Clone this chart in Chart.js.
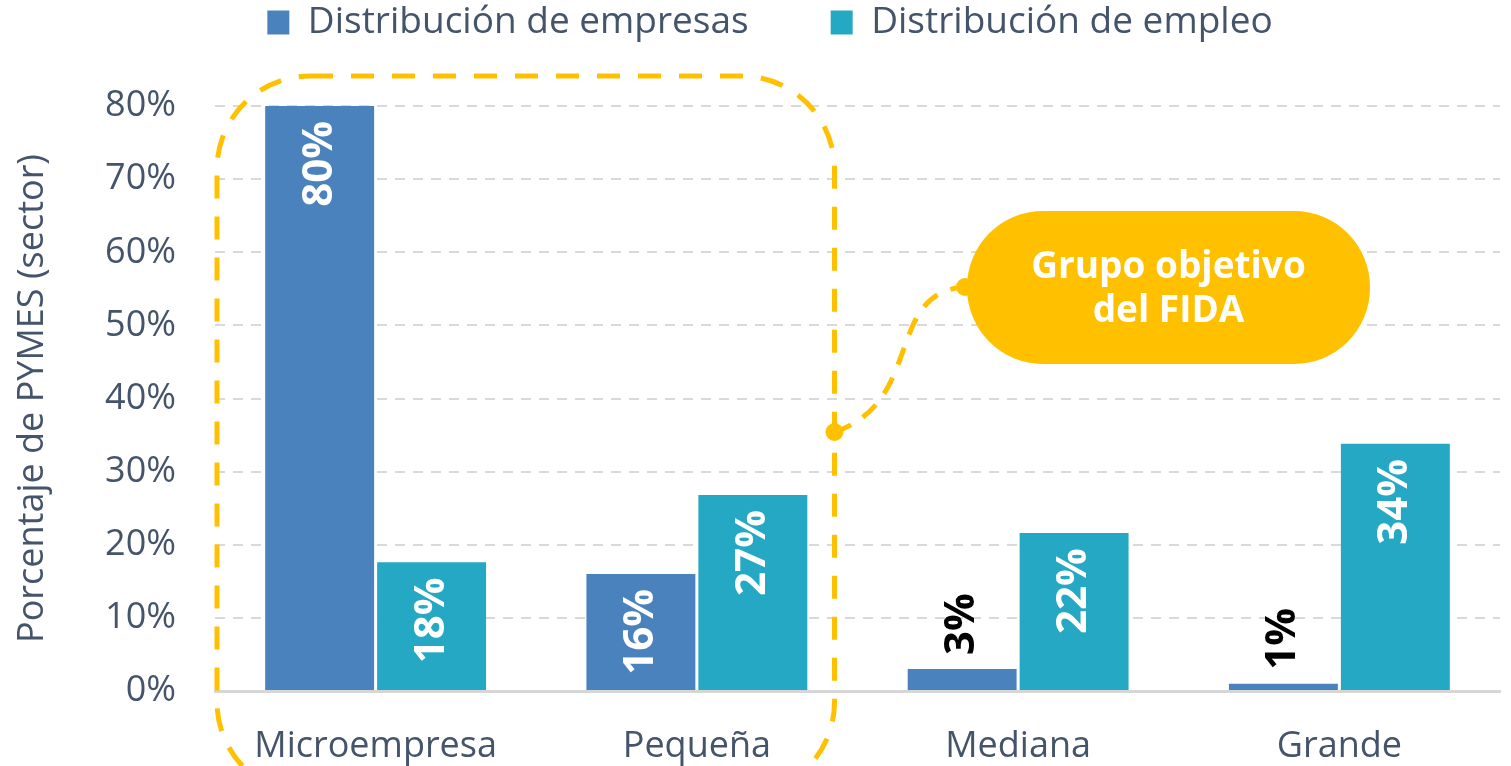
<!DOCTYPE html>
<html>
<head>
<meta charset="utf-8">
<script src="https://cdn.jsdelivr.net/npm/chart.js@4.4.1/dist/chart.umd.min.js"></script>
<style>
  html, body { margin: 0; padding: 0; background: #fff; }
  #wrap { width: 1511px; height: 766px; }
</style>
</head>
<body>
<div id="wrap"><canvas id="myChart"></canvas></div>
<script>
"use strict";

/* datos */
const categories = ['Microempresa', 'Pequeña', 'Mediana', 'Grande'];
const empresas = [80, 16, 3, 1];
const empleo = [17.6, 26.8, 21.6, 33.8];
const seriesNames = ['Distribución de empresas', 'Distribución de empleo'];
const yTicks = [0, 10, 20, 30, 40, 50, 60, 70, 80];
const calloutLines = ['Grupo objetivo', 'del FIDA'];

const textGray = '#44546a';
const yellow = '#ffc000';
const FONT = "'Open Sans', 'Noto Sans', sans-serif";

// etiquetas giradas en las barras
const barLabels = {
    id: 'barLabels',
    afterDatasetsDraw(chart) {
        const ctx = chart.ctx;
        chart.data.datasets.forEach((ds, i) => {
            const meta = chart.getDatasetMeta(i);
            meta.data.forEach((bar, j) => {
                const v = ds.data[j];
                const txt = Math.round(v) + '%';
                ctx.save();
                ctx.font = 'bold 42px ' + FONT;
                ctx.textBaseline = 'middle';
                if (v < 8) {
                    ctx.fillStyle = '#000';
                    ctx.translate(bar.x, bar.y - 14);
                    ctx.rotate(-Math.PI / 2);
                    ctx.textAlign = 'left';
                } else {
                    ctx.fillStyle = '#fff';
                    ctx.translate(bar.x, bar.y + 15);
                    ctx.rotate(-Math.PI / 2);
                    ctx.textAlign = 'right';
                }
                ctx.fillText(txt, 0, 0);
                ctx.restore();
            });
        });
    }
};

// recuadro punteado + globo "Grupo objetivo del FIDA"
const fidaBox = {
    id: 'fidaBox',
    afterDatasetsDraw(chart) {
        const ctx = chart.ctx;
        const x = chart.scales.x, y = chart.scales.y;
        const left = chart.chartArea.left + 2;
        const right = (x.getPixelForValue(1) + x.getPixelForValue(2)) / 2 - 23;
        const top = y.getPixelForValue(80) - 30;
        const bottom = 795;
        const r = 93;

        ctx.save();
        ctx.strokeStyle = yellow;
        ctx.fillStyle = yellow;
        ctx.lineWidth = 5;
        ctx.setLineDash([23, 18]);
        ctx.beginPath();
        ctx.roundRect(left, top, right - left, bottom - top, r);
        ctx.stroke();

        // globo
        const bx = 967, by = 211, bw = 403, bh = 153;
        ctx.setLineDash([]);
        ctx.beginPath();
        ctx.roundRect(bx, by, bw, bh, 76);
        ctx.fill();

        // conector
        const sx = right, sy = 432, ex = bx - 2, ey = 287;
        ctx.setLineDash([18, 14]);
        ctx.beginPath();
        ctx.moveTo(sx, sy);
        ctx.bezierCurveTo(sx + 90, sy - 30, sx + 50, ey + 5, ex, ey);
        ctx.stroke();
        ctx.setLineDash([]);
        ctx.beginPath();
        ctx.arc(sx, sy, 9, 0, Math.PI * 2);
        ctx.fill();
        ctx.beginPath();
        ctx.arc(ex, ey, 9, 0, Math.PI * 2);
        ctx.fill();

        ctx.fillStyle = '#fff';
        ctx.font = 'bold 37px ' + FONT;
        ctx.textAlign = 'center';
        ctx.textBaseline = 'middle';
        ctx.fillText(calloutLines[0], bx + bw / 2, 267);
        ctx.fillText(calloutLines[1], bx + bw / 2, 311);
        ctx.restore();
    }
};

// leyenda: altura fija, items arriba del todo
const legendFix = {
    id: 'legendFix',
    beforeInit(chart) {
        const lg = chart.legend;
        const fit = lg.fit;
        lg.fit = function () {
            fit.call(lg);
            lg.height = 106;
        };
        const draw = lg.draw;
        lg.draw = function () {
            const p = lg.options.labels.padding;
            const t = lg.top, l = lg.left, r = lg.right;
            lg.top = t - p + 4;
            lg.left = l + 20;
            lg.right = r + 20;
            draw.call(lg);
            lg.top = t; lg.left = l; lg.right = r;
        };
    }
};

const chartDiv = document.getElementById('myChart');

new Chart(chartDiv, {
    type: 'bar',
    data: {
        labels: categories,
        datasets: [{
            label: seriesNames[0],
            data: empresas,
            backgroundColor: '#4a82bd'
        }, {
            label: seriesNames[1],
            data: empleo,
            backgroundColor: '#25a8c3'
        }]
    },
    options: {
        responsive: true,
        maintainAspectRatio: false,
        animation: false,
        categoryPercentage: 0.697,
        barPercentage: 0.973,
        layout: { padding: { left: 0, right: 11, top: 0, bottom: 0 } },
        plugins: {
            legend: {
                position: 'top',
                labels: {
                    color: textGray,
                    font: { family: FONT, size: 37 },
                    boxWidth: 22,
                    boxHeight: 24,
                    padding: 82
                }
            },
            tooltip: { enabled: false }
        },
        scales: {
            x: {
                grid: { display: false, drawTicks: false },
                border: { display: true, color: '#d6d6d6', width: 3 },
                ticks: {
                    color: textGray,
                    font: { family: FONT, size: 36, lineHeight: 1 },
                    padding: 38
                },
                afterFit(s) { s.height = 75; }
            },
            y: {
                min: 0,
                max: 80,
                afterBuildTicks(s) { s.ticks = yTicks.map(v => ({ value: v })); },
                grid: {
                    color: '#d9d9d9',
                    lineWidth: 2,
                    drawTicks: false
                },
                border: { display: false, dash: [10, 8] },
                ticks: {
                    color: textGray,
                    font: { family: FONT, size: 36, lineHeight: 1 },
                    padding: 39,
                    callback: v => v + '%'
                },
                title: {
                    display: true,
                    text: 'Porcentaje de PYMES (sector)',
                    color: textGray,
                    font: { family: FONT, size: 36, lineHeight: 1.2 },
                    padding: { top: 11, bottom: 0 }
                },
                afterFit(s) { s.width = 215; }
            }
        }
    },
    plugins: [legendFix, barLabels, fidaBox]
});
</script>
</body>
</html>
